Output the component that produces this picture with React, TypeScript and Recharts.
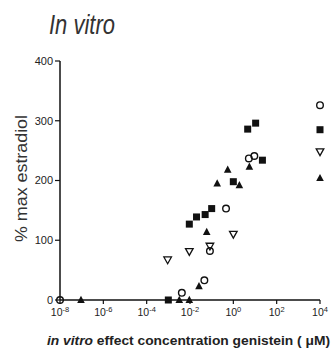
import React from 'react';
import { ScatterChart, Scatter, XAxis, YAxis } from 'recharts';

// concentrations (µM) and % max estradiol
const squareX = [1e-3, 9.3e-3, 2.0e-2, 5.0e-2, 1.0e-1, 1, 4.6, 10.7, 22, 1e4];
const squareY = [0, 127, 139, 143, 153, 198, 286, 296, 234, 285];

const triX = [9.3e-8, 3.2e-3, 9.3e-3, 2.6e-2, 5.9e-2, 1.8e-1, 5.5e-1, 1.9, 5.5, 1e4];
const triY = [0, 0, 0, 23, 114, 195, 218, 192, 223, 204];

const circleX = [1e-8, 4.2e-3, 4.6e-2, 8.3e-2, 4.6e-1, 5.2, 9.3, 1e4];
const circleY = [0, 12, 33, 82, 153, 237, 241, 326];

const downX = [9.3e-4, 9.3e-3, 8.3e-2, 1, 1e4];
const downY = [67, 81, 90, 110, 248];

const xTicks = [1e-8, 1e-6, 1e-4, 1e-2, 1, 1e2, 1e4];
const yTicks = [0, 100, 200, 300, 400];

const zip = (xs: number[], ys: number[]) => xs.map((x, i) => ({ x, y: ys[i] }));

const INK = '#111';
const FONT = '"Liberation Sans", Arial, sans-serif';

const SquareShape = (p: any) => (
  <rect x={p.cx - 3.5} y={p.cy - 3.5} width={7} height={7} fill={INK} />
);
const TriShape = (p: any) => (
  <polygon points={`${p.cx},${p.cy - 4.2} ${p.cx - 3.8},${p.cy + 3} ${p.cx + 3.8},${p.cy + 3}`} fill={INK} />
);
const CircleShape = (p: any) => (
  <circle cx={p.cx} cy={p.cy} r={3.3} fill="#fff" fillOpacity={0} stroke={INK} strokeWidth={1.4} />
);
const DownShape = (p: any) => (
  <polygon
    points={`${p.cx - 3.8},${p.cy - 3} ${p.cx + 3.8},${p.cy - 3} ${p.cx},${p.cy + 3.8}`}
    fill="none"
    stroke={INK}
    strokeWidth={1.3}
  />
);

const XTick = (props: any) => {
  const { x, y, payload } = props;
  const e = Math.round(Math.log10(payload.value));
  return (
    <text x={x} y={y + 10} textAnchor="middle" fontSize={10.5} fill="#222" fontFamily={FONT}>
      <tspan>10</tspan>
      <tspan dy={-4} fontSize={7.5}>{e}</tspan>
    </text>
  );
};

export default function App() {
  return (
    <div style={{ position: 'absolute', left: 0, top: 0, width: 333, height: 351, background: '#fff' }}>
      <ScatterChart width={333} height={351} margin={{ top: 61, right: 13, bottom: 0, left: 0 }}>
        <XAxis
          type="number"
          dataKey="x"
          scale="log"
          domain={[1e-8, 1e4]}
          ticks={xTicks}
          tick={<XTick />}
          tickSize={4}
          height={51}
          axisLine={{ stroke: '#111', strokeWidth: 1.5 }}
          tickLine={{ stroke: '#111', strokeWidth: 1.2 }}
          interval={0}
        />
        <YAxis
          type="number"
          dataKey="y"
          domain={[0, 400]}
          ticks={yTicks}
          width={60}
          tickSize={5}
          tickMargin={2}
          tick={{ fontSize: 11, fill: '#222', fontFamily: FONT }}
          axisLine={{ stroke: '#111', strokeWidth: 1.5 }}
          tickLine={{ stroke: '#111', strokeWidth: 1.2 }}
          interval={0}
        />
        <Scatter data={zip(downX, downY)} shape={DownShape} isAnimationActive={false} />
        <Scatter data={zip(circleX, circleY)} shape={CircleShape} isAnimationActive={false} />
        <Scatter data={zip(squareX, squareY)} shape={SquareShape} isAnimationActive={false} />
        <Scatter data={zip(triX, triY)} shape={TriShape} isAnimationActive={false} />
      </ScatterChart>
      <svg
        width={333}
        height={351}
        style={{ position: 'absolute', left: 0, top: 0, pointerEvents: 'none' }}
      >
        <text
          x={49}
          y={34}
          fontFamily={FONT}
          fontStyle="italic"
          fontSize={27}
          fill="#333"
          textLength={66}
          lengthAdjust="spacingAndGlyphs"
        >
          In vitro
        </text>
        <text
          transform="translate(27,178.5) rotate(-90)"
          textAnchor="middle"
          fontFamily={FONT}
          fontSize={16}
          fill="#333"
          textLength={127}
          lengthAdjust="spacingAndGlyphs"
        >
          % max estradiol
        </text>
        <text
          x={47}
          y={345}
          fontFamily={FONT}
          fontSize={13.5}
          fontWeight="bold"
          fill="#222"
          textLength={283}
          lengthAdjust="spacingAndGlyphs"
        >
          <tspan fontStyle="italic">in vitro</tspan> effect concentration genistein ( μM)
        </text>
      </svg>
    </div>
  );
}
